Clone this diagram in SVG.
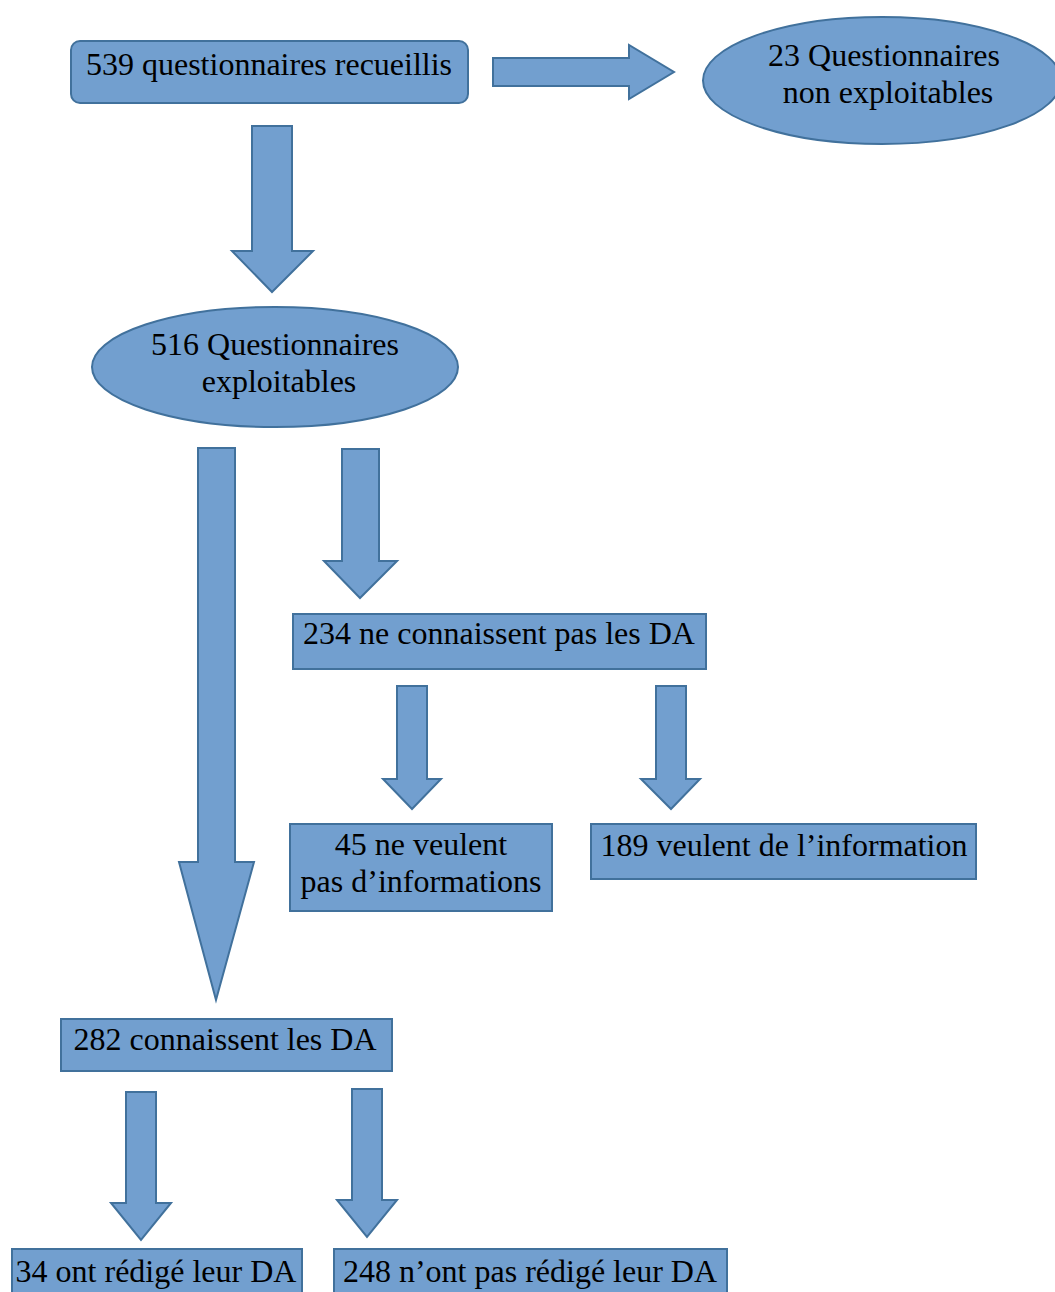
<svg xmlns="http://www.w3.org/2000/svg" width="1055" height="1292" viewBox="0 0 1055 1292">
<style>
.s{fill:#729FCF;stroke:#41719C;stroke-width:2}
.a{fill:#729FCF;stroke:#41719C;stroke-width:2;stroke-linejoin:miter}
.t{font-family:"Liberation Serif","Times New Roman",serif;font-size:32px;fill:#000;text-anchor:middle}
</style>
<rect width="1055" height="1292" fill="#fff"/>
<g id="connectors">
<path class="a" d="M493,58 H629 V45 L674,72 L629,99 V86 H493 Z"/>
<path class="a" d="M252,126 H292 V251 H313 L272,292 L232,251 H252 Z"/>
<path class="a" d="M198,448 H235 V862 H254 L216,1000 L179,862 H198 Z"/>
<path class="a" d="M342,449 H379 V561 H397 L360,598 L324,561 H342 Z"/>
<path class="a" d="M397,686 H427 V779 H441 L412,809 L383,779 H397 Z"/>
<path class="a" d="M656,686 H686 V779 H700 L671,809 L641,779 H656 Z"/>
<path class="a" d="M126,1092 H156 V1203 H171 L141,1240 L111,1203 H126 Z"/>
<path class="a" d="M352,1089 H382 V1200 H397 L367,1237 L337,1200 H352 Z"/>
</g>
<g id="n539">
<rect class="s" x="71" y="41" width="397" height="62" rx="9"/>
<text class="t" x="269" y="75">539 questionnaires recueillis</text>
</g>
<g id="n23">
<ellipse class="s" cx="882" cy="80.5" rx="179" ry="63.5"/>
<text class="t" x="884" y="66">23 Questionnaires</text>
<text class="t" x="888" y="103">non exploitables</text>
</g>
<g id="n516">
<ellipse class="s" cx="275" cy="367" rx="183" ry="60"/>
<text class="t" x="275" y="355">516 Questionnaires</text>
<text class="t" x="279" y="392">exploitables</text>
</g>
<g id="n234">
<rect class="s" x="293" y="614" width="413" height="55"/>
<text class="t" x="499" y="644">234 ne connaissent pas les DA</text>
</g>
<g id="n45">
<rect class="s" x="290" y="824" width="262" height="87"/>
<text class="t" x="421" y="855">45 ne veulent</text>
<text class="t" x="421" y="892">pas d’informations</text>
</g>
<g id="n189">
<rect class="s" x="591" y="824" width="385" height="55"/>
<text class="t" x="784" y="856">189 veulent de l’information</text>
</g>
<g id="n282">
<rect class="s" x="61" y="1019" width="331" height="52"/>
<text class="t" x="225" y="1050">282 connaissent les DA</text>
</g>
<g id="n34">
<rect class="s" x="12" y="1249" width="290" height="50"/>
<text class="t" x="156" y="1282">34 ont rédigé leur DA</text>
</g>
<g id="n248">
<rect class="s" x="334" y="1249" width="393" height="50"/>
<text class="t" x="530" y="1282">248 n’ont pas rédigé leur DA</text>
</g>
</svg>
